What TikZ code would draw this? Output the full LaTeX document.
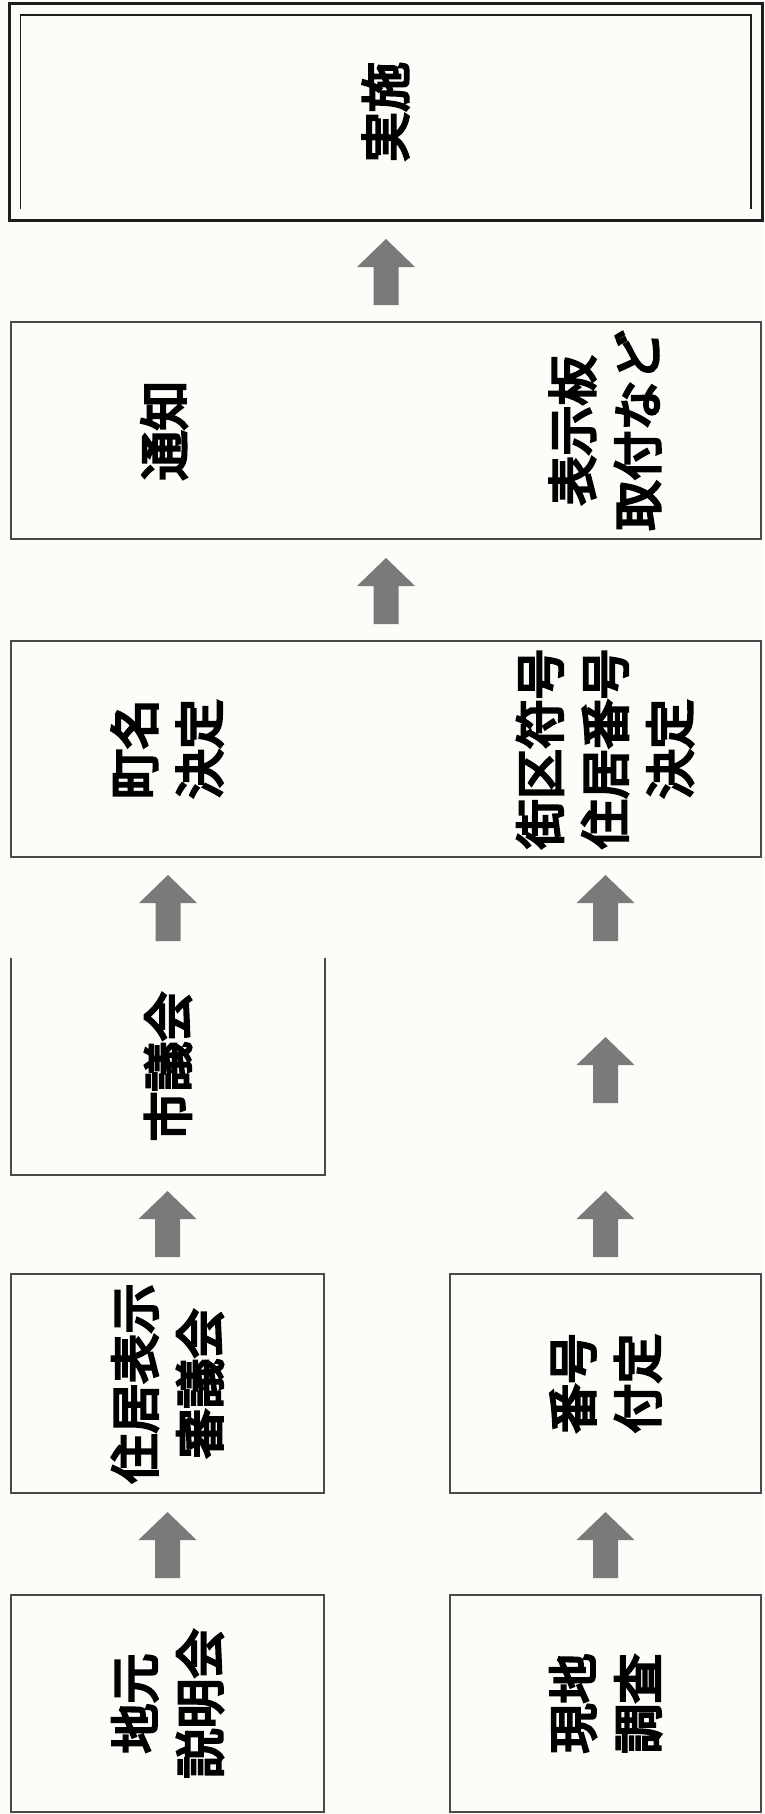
\documentclass[tikz,border=0pt]{standalone}
\usepackage{fontspec}
\newfontfamily\jp{Noto Sans CJK JP}[FakeBold=5]
\usetikzlibrary{calc}
\definecolor{bgcol}{HTML}{FCFCF8}
\definecolor{boxline}{HTML}{4A4A4A}
\definecolor{darkline}{HTML}{1E1E1E}
\definecolor{arrowfill}{HTML}{7A7A7A}
\tikzset{
  box/.style={draw=boxline, line width=1.6pt, fill=bgcol, anchor=north west, inner sep=0pt, outer sep=0pt},
  openbox/.style={fill=bgcol, anchor=north west, inner sep=0pt, outer sep=0pt},
  lbl/.style={rotate=90, font=\jp\fontsize{50}{65}\selectfont, align=center, inner sep=0pt, text=black},
  uparrow/.pic={\fill[arrowfill] (-12.5,0) -- (-12.5,-38) -- (-29,-38) -- (0,-66) -- (29,-38) -- (12.5,-38) -- (12.5,0) -- cycle;}
}
\begin{document}
\begin{tikzpicture}[x=1pt,y=-1pt]
\useasboundingbox (0,0) rectangle (764,1814);
\fill[bgcol] (0,0) rectangle (764,1814);

% top box (double frame)
\node[box, draw=darkline, line width=3pt, minimum width=753, minimum height=216] (b1) at (9,4) {};
\coordinate (in1) at ($(b1.south west)+(11.5,-11)$);
\coordinate (in2) at ($(b1.north west)+(11.5,11)$);
\coordinate (in3) at ($(b1.north east)+(-11,11)$);
\coordinate (in4) at ($(b1.south east)+(-11,-11)$);
\draw[darkline, line width=1.4pt] (in1) -- (in2) -- (in3) -- (in4);
\node[lbl] (t1) at (b1.center) {実施};

% second box
\node[box, minimum width=750, minimum height=217] (b2) at (11,322) {};
\node[lbl] (t2a) at ($(b2.west)+(153,0)$) {通知};
\node[lbl] (t2b) at ($(b2.west)+(594,0)$) {表示板\\取付など};

% third box
\node[box, minimum width=750, minimum height=216] (b3) at (11,641) {};
\node[lbl] (t3a) at ($(b3.west)+(156,0)$) {町名\\決定};
\node[lbl] (t3b) at ($(b3.west)+(594,0)$) {街区符号\\住居番号\\決定};

% 市議会 (no top border)
\node[openbox, minimum width=314, minimum height=217] (shigikai) at (11,958) {};
\draw[boxline, line width=1.6pt] (shigikai.north west) -- (shigikai.south west) -- (shigikai.south east) -- (shigikai.north east);
\node[lbl] (t4) at (shigikai.center) {市議会};

% 住居表示審議会
\node[box, minimum width=313, minimum height=219] (shingikai) at (11,1274) {};
\node[lbl] (t5) at (shingikai.center) {住居表示\\審議会};

% 番号付定
\node[box, minimum width=311, minimum height=219] (bango) at (450,1274) {};
\node[lbl] (t6) at (bango.center) {番号\\付定};

% 地元説明会
\node[box, minimum width=313, minimum height=217] (jimoto) at (11,1595) {};
\node[lbl] (t7) at (jimoto.center) {地元\\説明会};

% 現地調査
\node[box, minimum width=311, minimum height=217] (genchi) at (450,1595) {};
\node[lbl] (t8) at (genchi.center) {現地\\調査};

% arrows
\pic at ($(b2.north)+(0,-17)$) {uparrow};
\pic at ($(b3.north)+(0,-17)$) {uparrow};
\pic at ($(shigikai.north)+(0,-17)$) {uparrow};
\pic at ($(bango.north |- shigikai.north)+(0,-17)$) {uparrow};
\pic at ($(bango.north |- shigikai.south)+(0,-72)$) {uparrow};
\pic at ($(shingikai.north)+(0,-17)$) {uparrow};
\pic at ($(bango.north)+(0,-17)$) {uparrow};
\pic at ($(jimoto.north)+(0,-17)$) {uparrow};
\pic at ($(genchi.north)+(0,-17)$) {uparrow};
\end{tikzpicture}
\end{document}
